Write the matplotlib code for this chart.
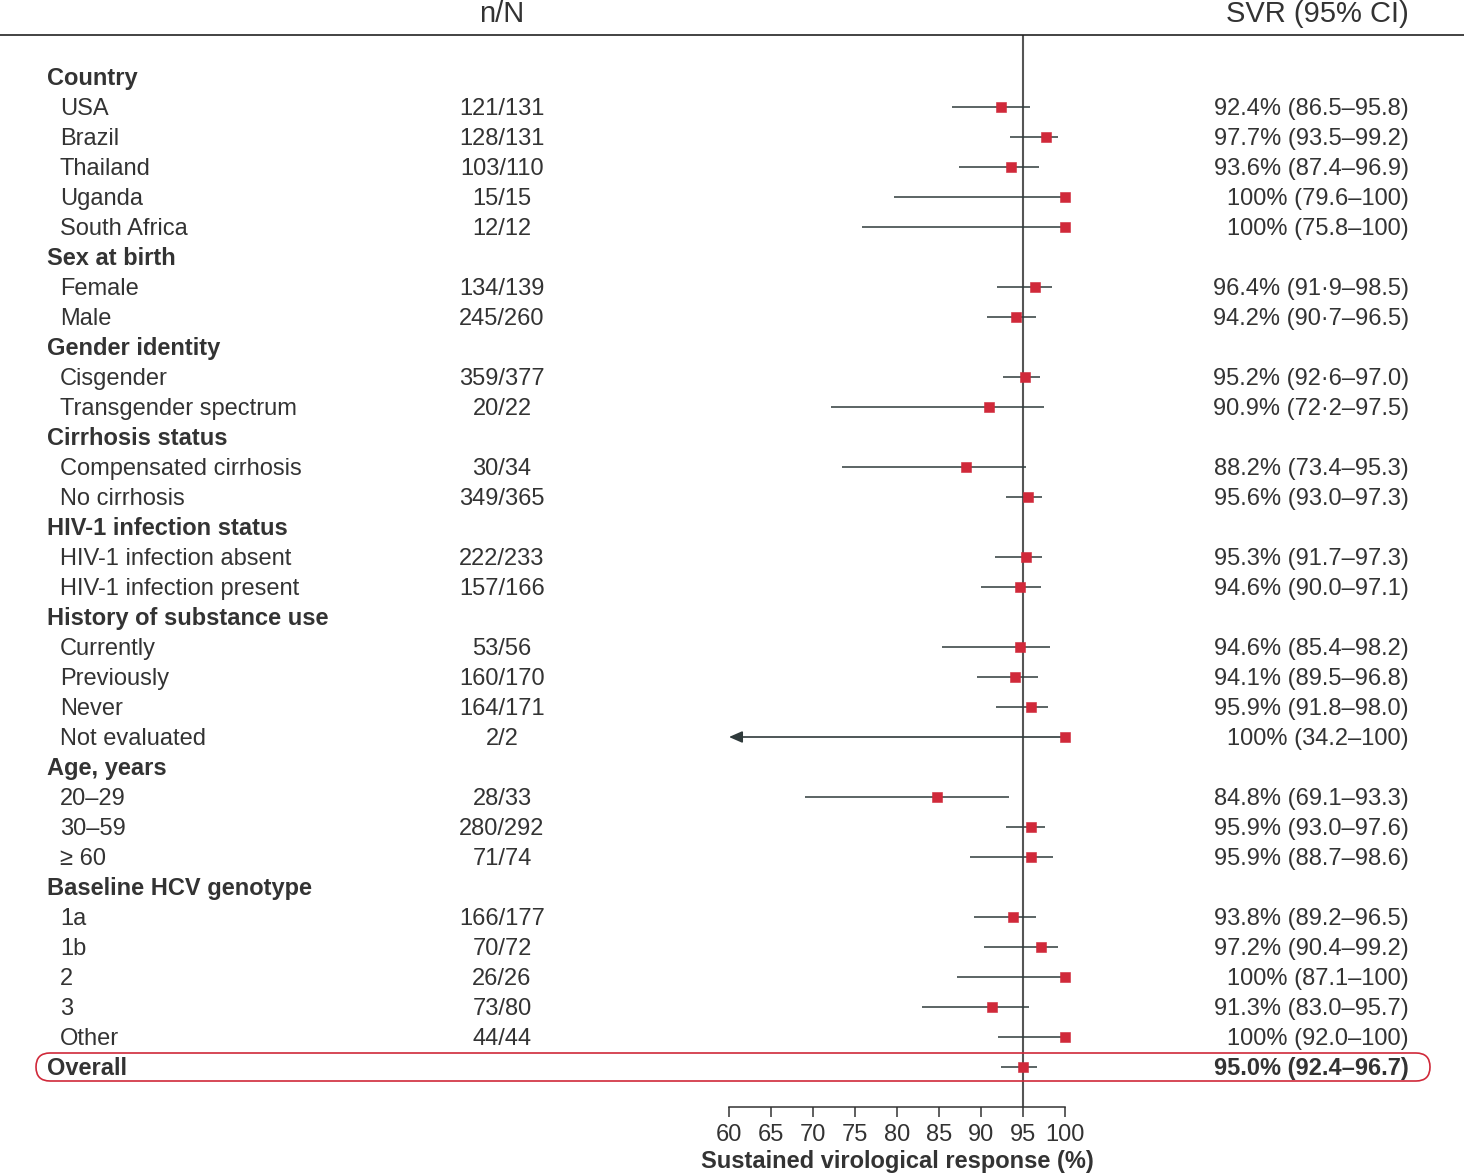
import matplotlib
matplotlib.use("Agg")
import matplotlib.pyplot as plt
import matplotlib.transforms as mtrans
from matplotlib.lines import Line2D
from matplotlib.patches import FancyBboxPatch

# ---------------- data ----------------
labels = ["Country", "USA", "Brazil", "Thailand", "Uganda", "South Africa",
          "Sex at birth", "Female", "Male",
          "Gender identity", "Cisgender", "Transgender spectrum",
          "Cirrhosis status", "Compensated cirrhosis", "No cirrhosis",
          "HIV-1 infection status", "HIV-1 infection absent", "HIV-1 infection present",
          "History of substance use", "Currently", "Previously", "Never", "Not evaluated",
          "Age, years", "20–29", "30–59", "≥ 60",
          "Baseline HCV genotype", "1a", "1b", "2", "3", "Other",
          "Overall"]
is_header = [True, False, False, False, False, False,
             True, False, False,
             True, False, False,
             True, False, False,
             True, False, False,
             True, False, False, False, False,
             True, False, False, False,
             True, False, False, False, False, False,
             True]
nN = ["", "121/131", "128/131", "103/110", "15/15", "12/12",
      "", "134/139", "245/260",
      "", "359/377", "20/22",
      "", "30/34", "349/365",
      "", "222/233", "157/166",
      "", "53/56", "160/170", "164/171", "2/2",
      "", "28/33", "280/292", "71/74",
      "", "166/177", "70/72", "26/26", "73/80", "44/44",
      ""]
svr = [None, 92.4, 97.7, 93.6, 100, 100,
       None, 96.4, 94.2,
       None, 95.2, 90.9,
       None, 88.2, 95.6,
       None, 95.3, 94.6,
       None, 94.6, 94.1, 95.9, 100,
       None, 84.8, 95.9, 95.9,
       None, 93.8, 97.2, 100, 91.3, 100,
       95.0]
lo = [None, 86.5, 93.5, 87.4, 79.6, 75.8,
      None, 91.9, 90.7,
      None, 92.6, 72.2,
      None, 73.4, 93.0,
      None, 91.7, 90.0,
      None, 85.4, 89.5, 91.8, 34.2,
      None, 69.1, 93.0, 88.7,
      None, 89.2, 90.4, 87.1, 83.0, 92.0,
      92.4]
hi = [None, 95.8, 99.2, 96.9, 100, 100,
      None, 98.5, 96.5,
      None, 97.0, 97.5,
      None, 95.3, 97.3,
      None, 97.3, 97.1,
      None, 98.2, 96.8, 98.0, 100,
      None, 93.3, 97.6, 98.6,
      None, 96.5, 99.2, 100, 95.7, 100,
      96.7]
ci_text = ["", "92.4% (86.5–95.8)", "97.7% (93.5–99.2)", "93.6% (87.4–96.9)",
           "100% (79.6–100)", "100% (75.8–100)",
           "", "96.4% (91·9–98.5)", "94.2% (90·7–96.5)",
           "", "95.2% (92·6–97.0)", "90.9% (72·2–97.5)",
           "", "88.2% (73.4–95.3)", "95.6% (93.0–97.3)",
           "", "95.3% (91.7–97.3)", "94.6% (90.0–97.1)",
           "", "94.6% (85.4–98.2)", "94.1% (89.5–96.8)", "95.9% (91.8–98.0)",
           "100% (34.2–100)",
           "", "84.8% (69.1–93.3)", "95.9% (93.0–97.6)", "95.9% (88.7–98.6)",
           "", "93.8% (89.2–96.5)", "97.2% (90.4–99.2)", "100% (87.1–100)",
           "91.3% (83.0–95.7)", "100% (92.0–100)",
           "95.0% (92.4–96.7)"]
xticks = [60, 65, 70, 75, 80, 85, 90, 95, 100]
ref_value = 95
xmin, xmax = 60, 100

# ---------------- style ----------------
W, H = 1464, 1175
TXT = "#333333"
RED = "#d0293a"
LINE = "#2f3a3b"
FONT = ["Liberation Sans", "DejaVu Sans"]
plt.rcParams["font.family"] = FONT
FS = 17
YOFF = 0.06

fig = plt.figure(figsize=(W / 100, H / 100), dpi=100)

row0_px, step_px = 77, 30
top_px, bot_px = 35, 1107
ax_left_px, ax_right_px = 729, 1065
ax = fig.add_axes([ax_left_px / W, 1 - bot_px / H,
                   (ax_right_px - ax_left_px) / W, (bot_px - top_px) / H])
ax.set_xlim(xmin, xmax)
ax.set_ylim((bot_px - row0_px) / step_px, (top_px - row0_px) / step_px)
for s in ["left", "right", "top"]:
    ax.spines[s].set_visible(False)
ax.spines["bottom"].set_color(TXT)
ax.spines["bottom"].set_linewidth(1.1)
ax.set_yticks([])
ax.set_xticks(xticks)
ax.tick_params(axis="x", direction="out", length=7, width=1.1, color=TXT,
               labelsize=FS, labelcolor=TXT, pad=5)
ax.set_xlabel("Sustained virological response (%)", fontsize=FS, color=TXT,
              fontweight="bold", labelpad=3)
ax.patch.set_visible(False)

ax.axvline(ref_value, color="#555555", lw=1.5, zorder=1)

tr = mtrans.blended_transform_factory(fig.transFigure, ax.transData)

for i, lab in enumerate(labels):
    hdr = is_header[i]
    x_lab = (47 if hdr else 60) / W
    ax.text(x_lab, i + YOFF, lab, transform=tr, ha="left", va="center", fontsize=FS,
            color=TXT, fontweight="bold" if hdr else "normal", clip_on=False)
    if nN[i]:
        ax.text(502 / W, i + YOFF, nN[i], transform=tr, ha="center", va="center",
                fontsize=FS, color=TXT, clip_on=False)
    if ci_text[i]:
        ax.text(1409 / W, i + YOFF, ci_text[i], transform=tr, ha="right", va="center",
                fontsize=FS, color=TXT, clip_on=False,
                fontweight="bold" if lab == "Overall" else "normal")
    if svr[i] is not None:
        if lo[i] < xmin:
            ax.annotate("", xy=(xmin, i), xytext=(hi[i], i),
                        arrowprops=dict(arrowstyle="-|>,head_length=0.8,head_width=0.35",
                                        color=LINE, lw=1.2, shrinkA=0, shrinkB=0),
                        zorder=2, annotation_clip=False)
        else:
            ax.plot([lo[i], hi[i]], [i, i], color=LINE, lw=1.1, zorder=2,
                    solid_capstyle="butt")
        ax.plot(svr[i], i, marker="s", ms=6.5, color=RED, mec=RED, mew=0.4,
                zorder=3, clip_on=False)

# headers
fig.text(502 / W, 1 - 14 / H, "n/N", ha="center", va="center", fontsize=21,
         color=TXT)
fig.text(1409 / W, 1 - 14 / H, "SVR (95% CI)", ha="right", va="center",
         fontsize=21, color=TXT)
fig.add_artist(Line2D([0, 1], [1 - top_px / H] * 2, transform=fig.transFigure,
                      color="#222222", lw=1.2))

# overall highlight box (inches)
x0, x1 = 36 / 100, 1430 / 100
y0, y1 = (H - 1081) / 100, (H - 1053) / 100
r = (y1 - y0) / 2
box = FancyBboxPatch((x0, y0), x1 - x0, y1 - y0,
                     boxstyle=f"round,pad=0,rounding_size={r}",
                     transform=fig.dpi_scale_trans, fill=False,
                     edgecolor=RED, lw=1.2)
fig.add_artist(box)

fig.savefig("out.png", dpi=100)
